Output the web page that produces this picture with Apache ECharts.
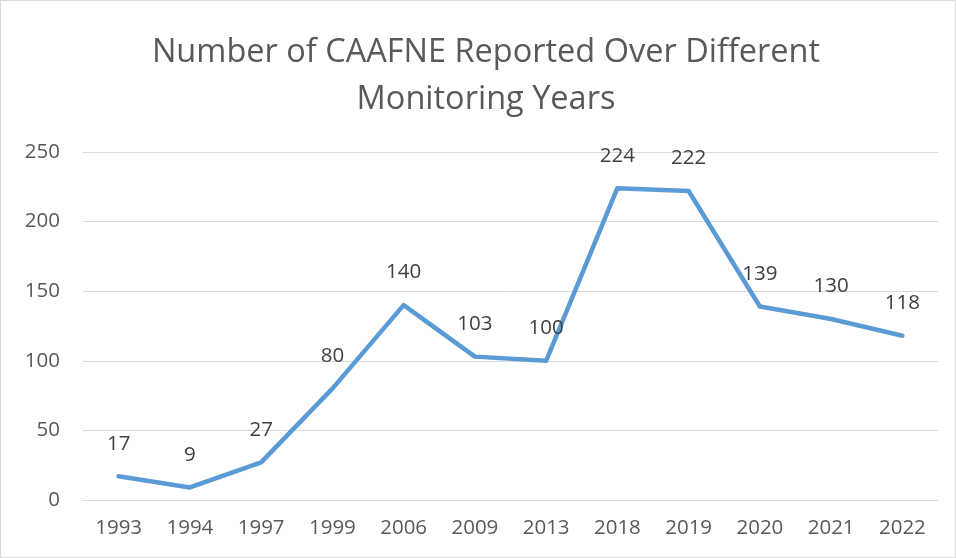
<!DOCTYPE html>
<html>
<head>
<meta charset="utf-8">
<script src="https://cdn.jsdelivr.net/npm/echarts@6/dist/echarts.min.js"></script>
<style>
html,body{margin:0;padding:0;background:#fff;}
#c{width:954px;height:556px;border:1px solid #d9d9d9;}
</style>
</head>
<body>
<div id="c"></div>
<script>
const categories = ['1993','1994','1997','1999','2006','2009','2013','2018','2019','2020','2021','2022'];
const values = [17, 9, 27, 80, 140, 103, 100, 224, 222, 139, 130, 118];
const titleText = 'Number of CAAFNE Reported Over Different\nMonitoring Years';

const chart = echarts.init(document.getElementById('c'));
chart.setOption({
  animation: false,
  backgroundColor: '#fff',
  textStyle: { fontFamily: '"Open Sans", "Noto Sans", sans-serif' },
  title: {
    text: titleText,
    left: 480,
    top: 23,
    textAlign: 'center',
    textStyle: { fontSize: 32.5, fontWeight: 'normal', color: '#595959', lineHeight: 47,
      fontFamily: '"Open Sans", "Noto Sans", sans-serif' }
  },
  grid: { left: 82, right: 17, top: 151, bottom: 57, containLabel: false },
  xAxis: {
    type: 'category',
    data: categories,
    boundaryGap: true,
    axisLine: { lineStyle: { color: '#d9d9d9', width: 1 } },
    axisTick: { show: false },
    axisLabel: { color: '#595959', fontSize: 20.5, margin: 18, fontFamily: '"Open Sans", "Noto Sans", sans-serif' }
  },
  yAxis: {
    type: 'value',
    min: 0, max: 250, interval: 50,
    axisLine: { show: false },
    axisTick: { show: false },
    splitLine: { lineStyle: { color: '#d9d9d9', width: 1 } },
    axisLabel: { color: '#595959', fontSize: 20.5, margin: 23, fontFamily: '"Open Sans", "Noto Sans", sans-serif' }
  },
  series: [{
    type: 'line',
    data: values,
    smooth: false,
    showSymbol: true,
    symbol: 'circle',
    symbolSize: 2,
    itemStyle: { color: 'rgba(0,0,0,0)', borderWidth: 0 },
    lineStyle: { color: '#5B9BD5', width: 4.5, cap: 'round', join: 'round' },
    label: {
      show: true,
      position: 'top',
      distance: 21,
      color: '#404040',
      fontSize: 20.5,
      fontFamily: '"Open Sans", "Noto Sans", sans-serif'
    },
    labelLayout: { hideOverlap: false },
    emphasis: { disabled: true }
  }]
});
</script>
</body>
</html>
